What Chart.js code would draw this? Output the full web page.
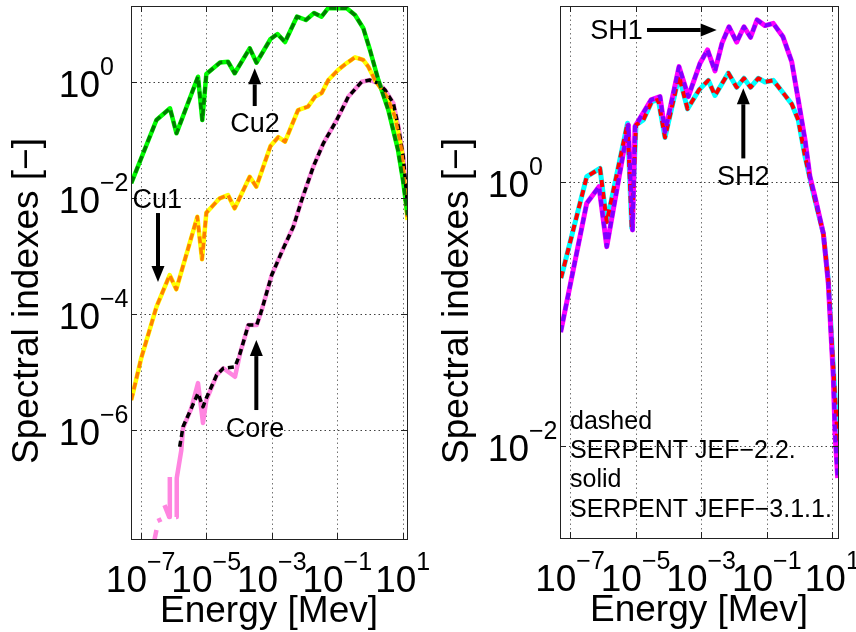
<!DOCTYPE html>
<html>
<head>
<meta charset="utf-8">
<script src="https://cdn.jsdelivr.net/npm/chart.js@4.4.1/dist/chart.umd.min.js"></script>
<style>
  html, body { margin: 0; padding: 0; background: #ffffff; }
  #wrap { position: relative; width: 856px; height: 632px; overflow: hidden; }
  #wrap canvas { position: absolute; left: 0; top: 0; }
</style>
</head>
<body>
<div id="wrap">
  <canvas id="leftPanel" width="856" height="632"></canvas>
  <canvas id="rightPanel" width="856" height="632"></canvas>
</div>
<script>
// ---------------------------------------------------------------
// Spectral indexes vs energy [MeV], SERPENT with JEF-2.2 (dashed)
// and JEFF-3.1.1 (solid) libraries.
// ---------------------------------------------------------------

// Left panel: Cu1, Cu2 detector positions and the core
const cu2Energy = [5.16e-8, 3.03e-7, 7.85e-7, 1.24e-6, 5.62e-6, 7.6e-6, 1.01e-5, 2.64e-5, 4.63e-5, 7.41e-5,
                   2.13e-4, 3.44e-4, 9.18e-4, 1.50e-3, 2.55e-3, 5.93e-3, 1.11e-2, 1.96e-2, 3.32e-2, 5.35e-2,
                   9.66e-2, 0.195, 0.350, 0.627, 1.00, 1.80, 3.63, 7.18, 10.2, 14.0];
const cu2Index  = [1.79e-2, 0.219, 0.348, 0.129, 1.22, 0.219, 1.36, 2.14, 2.21, 1.40,
                   3.77, 2.13, 5.45, 6.64, 4.83, 13.3, 11.6, 15.3, 13.2, 18.7,
                   18.5, 18.5, 14.1, 8.34, 3.52, 1.07, 0.325, 6.64e-2, 2.0e-2, 5.0e-3];

const cu1Energy = [5.16e-8, 1.04e-7, 3.03e-7, 7.67e-7, 1.22e-6, 5.35e-6, 7.45e-6, 1.01e-5, 2.58e-5, 4.63e-5,
                   7.41e-5, 2.13e-4, 3.39e-4, 9.18e-4, 1.59e-3, 2.55e-3, 6.35e-3, 1.28e-2, 2.10e-2, 3.36e-2,
                   5.35e-2, 0.106, 0.195, 0.350, 0.627, 0.891, 1.43, 3.25, 5.82, 9.31, 14.0];
const cu1Index  = [3.25e-6, 1.72e-5, 1.32e-4, 4.65e-4, 2.64e-4, 4.70e-3, 8.67e-4, 5.51e-3, 9.77e-3, 1.11e-2,
                   6.56e-3, 2.30e-2, 1.55e-2, 7.78e-2, 0.111, 9.24e-2, 0.325, 0.371, 0.551, 0.638,
                   1.07, 1.59, 2.10, 2.64, 2.37, 1.81, 1.07, 0.551, 0.249, 6.64e-2, 4.13e-3];

// Core, JEF-2.2
const coreEnergy = [1.55e-6, 1.96e-6, 3.51e-6, 5.62e-6, 7.98e-6, 1.01e-5, 2.09e-5, 3.33e-5, 7.57e-5, 1.08e-4,
                    1.93e-4, 3.48e-4, 4.95e-4, 1.0e-3, 2.26e-3, 4.57e-3, 8.24e-3, 1.86e-2, 3.77e-2, 9.66e-2,
                    0.218, 0.560, 1.00, 1.80, 2.88, 5.16, 7.34, 10.4, 14.0];
const coreJef    = [5.09e-7, 1.13e-6, 2.34e-6, 4.25e-6, 2.49e-6, 3.52e-6, 8.77e-6, 1.15e-5, 1.22e-5, 2.07e-5,
                    6.38e-5, 6.38e-5, 1.16e-4, 4.65e-4, 1.34e-3, 3.16e-3, 9.12e-3, 3.42e-2, 8.67e-2, 0.219,
                    0.551, 1.0, 1.07, 0.938, 0.719, 0.425, 0.168, 5.09e-2, 7.48e-3];

// Core, JEFF-3.1.1 (empty groups at low energy are left as gaps)
const coreJeffEnergy = [2.21e-7, 3.03e-7, 3.1e-7, 3.26e-7, 4.31e-7, 4.5e-7, 5.33e-7, 7.46e-7, 7.75e-7, 9.0e-7,
                        1.20e-6, 1.26e-6, 1.74e-6, 1.96e-6, 3.51e-6, 5.62e-6, 7.98e-6, 1.01e-5, 2.09e-5, 3.33e-5,
                        7.57e-5, 1.08e-4, 1.93e-4, 3.48e-4, 4.95e-4, 1.0e-3, 2.26e-3, 4.57e-3, 8.24e-3, 1.86e-2,
                        3.77e-2, 9.66e-2, 0.218, 0.560, 1.00, 1.80, 2.88, 5.16, 7.34, 10.4, 14.0];
const coreJeff       = [7.79e-9, 1.87e-8, null, 2.67e-8, 2.88e-8, null, 5.04e-8, 3.13e-8, 1.53e-7, null,
                        3.13e-8, 1.47e-7, 4.47e-7, 1.07e-6, 2.34e-6, 6.38e-6, 1.31e-6, 3.25e-6, 8.77e-6, 1.15e-5,
                        8.2e-6, 2.07e-5, 6.38e-5, 6.38e-5, 1.16e-4, 4.65e-4, 1.34e-3, 3.16e-3, 9.12e-3, 3.42e-2,
                        8.67e-2, 0.219, 0.551, 1.0, 1.07, 0.938, 0.719, 0.425, 0.168, 5.09e-2, 7.48e-3];

// Right panel: SH1 and SH2
const sh1Energy = [5.20e-8, 3.23e-7, 7.66e-7, 1.32e-6, 6.0e-6, 8.05e-6, 9.6e-6, 2.95e-5, 5.56e-5, 7.89e-5,
                   2.11e-4, 4.06e-4, 9.23e-4, 1.56e-3, 2.64e-3, 4.33e-3, 7.06e-3, 1.21e-2, 2.02e-2, 3.20e-2,
                   5.05e-2, 8.85e-2, 0.158, 0.313, 0.577, 0.916, 1.47, 2.08, 2.96, 5.31,
                   7.54, 10.7, 12.1, 14.6];
const sh1Index  = [7.26e-2, 0.685, 0.916, 0.322, 2.69, 0.431, 2.61, 4.16, 4.41, 2.38,
                   7.43, 4.41, 7.89, 9.95, 6.90, 11.2, 14.9, 11.4, 14.9, 12.4,
                   16.8, 15.2, 15.8, 12.5, 8.11, 4.16, 2.07, 1.09, 0.769, 0.406,
                   0.170, 3.33e-2, 1.24e-2, 5.69e-3];

const sh2Energy = [5.32e-8, 3.23e-7, 8.22e-7, 1.32e-6, 5.68e-6, 7.62e-6, 1.03e-5, 1.72e-5, 3.10e-5, 4.93e-5,
                   7.89e-5, 2.11e-4, 3.83e-4, 8.59e-4, 1.65e-3, 2.64e-3, 6.73e-3, 1.21e-2, 2.02e-2, 3.20e-2,
                   5.53e-2, 8.85e-2, 0.158, 0.286, 0.577, 0.916, 1.47, 2.63, 5.31, 7.54,
                   10.7, 13.6, 14.9];
const sh2Index  = [0.186, 1.09, 1.26, 0.495, 2.77, 0.446, 2.69, 2.93, 4.04, 4.16,
                   2.16, 6.32, 3.56, 4.95, 5.85, 4.50, 6.65, 5.18, 6.07, 5.18,
                   6.07, 5.69, 5.85, 4.86, 3.88, 2.93, 1.55, 0.817, 0.406, 0.180,
                   3.96e-2, 1.48e-2, 7.40e-3];

// Tick values (decades)
const xTicks      = [1e-7, 1e-5, 1e-3, 1e-1, 1e1];
const yTicksLeft  = [1e-6, 1e-4, 1e-2, 1];
const yTicksRight = [1e-2, 1];

// Axis limits
const leftX  = [5.06e-8, 13.5];
const leftY  = [1.31e-8, 20.2];
const rightX = [4.95e-8, 14.9];
const rightY = [2.0e-3, 21.4];

// Annotations (anchored in data coordinates)
const leftNotes = [
  { text: 'Cu2',  e: 3.09e-4, v: 0.137 },
  { text: 'Cu1',  e: 3.19e-7, v: 6.56e-3 },
  { text: 'Core', e: 3.09e-4, v: 7.48e-7 }
];
const leftArrows = [
  { from: [3.03e-4, 0.381],  to: [3.03e-4, 1.70] },
  { from: [3.37e-7, 5.45e-3], to: [3.37e-7, 3.52e-4] },
  { from: [3.39e-4, 2.19e-6], to: [3.39e-4, 3.52e-5] }
];
const rightNotes = [
  { text: 'SH1', e: 2.62e-6, v: 12.0 },
  { text: 'SH2', e: 1.93e-2, v: 0.944 }
];
const rightArrows = [
  { from: [2.23e-5, 14.1], to: [2.98e-3, 14.1] },
  { from: [1.93e-2, 1.50], to: [1.93e-2, 5.10] }
];
const legendLines = ['dashed', 'SERPENT JEF\u22122.2.', 'solid', 'SERPENT JEFF\u22123.1.1.'];
const legendAnchor = { e: 1e-7, v: 1.35e-2 };

// ---------------------------------------------------------------
const FAMILY = '"Liberation Sans", Arial, Helvetica, sans-serif';
const TICK_FONT = '37px ' + FAMILY;
const EXP_FONT  = '25px ' + FAMILY;
const TITLE_FONT = '37px ' + FAMILY;
const NOTE_FONT = '27px ' + FAMILY;
const LEGEND_FONT = '25px ' + FAMILY;

function points(xs, ys) { return xs.map((x, i) => ({ x: x, y: ys[i] })); }

function line(label, xs, ys, color, width, dash, order) {
  return {
    label: label,
    data: points(xs, ys),
    borderColor: color,
    backgroundColor: color,
    borderWidth: width,
    borderDash: dash || [],
    borderCapStyle: 'butt',
    borderJoinStyle: 'round',
    pointRadius: 0,
    tension: 0,
    fill: false,
    spanGaps: false,
    clip: 0,
    order: order
  };
}

function expText(v) {
  const p = Math.round(Math.log10(v));
  return p < 0 ? '\u2212' + (-p) : String(p);
}

// "10" with a raised exponent.
// anchor 'center': whole label centred on x; anchor 'right': the "10" ends at x
function decade(ctx, v, x, y, anchor) {
  const es = expText(v);
  ctx.font = TICK_FONT; const wb = ctx.measureText('10').width;
  ctx.font = EXP_FONT;  const we = ctx.measureText(es).width;
  const x0 = anchor === 'center' ? x - (wb + we) / 2 : x - wb;
  ctx.textAlign = 'left';
  ctx.textBaseline = 'alphabetic';
  ctx.font = TICK_FONT; ctx.fillText('10', x0, y);
  ctx.font = EXP_FONT;  ctx.fillText(es, x0 + wb, y - 22);
}

function arrow(ctx, x0, y0, x1, y1) {
  const dx = x1 - x0, dy = y1 - y0, L = Math.hypot(dx, dy);
  const ux = dx / L, uy = dy / L, hl = 16, hw = 6.5;
  const bx = x1 - ux * hl, by = y1 - uy * hl;
  ctx.strokeStyle = '#000'; ctx.fillStyle = '#000';
  ctx.lineWidth = 4; ctx.lineCap = 'butt'; ctx.setLineDash([]);
  ctx.beginPath(); ctx.moveTo(x0, y0); ctx.lineTo(bx, by); ctx.stroke();
  ctx.beginPath();
  ctx.moveTo(x1, y1);
  ctx.lineTo(bx - uy * hw, by + ux * hw);
  ctx.lineTo(bx + uy * hw, by - ux * hw);
  ctx.closePath(); ctx.fill();
}

// Dotted grid, drawn under the curves
const gridPlugin = {
  id: 'matGrid',
  beforeDatasetsDraw(chart) {
    const { ctx, chartArea: a, scales: { x, y } } = chart;
    ctx.save();
    ctx.lineWidth = 1;
    ctx.setLineDash([1.5, 3]);
    ctx.strokeStyle = 'rgba(0,0,0,0.55)';
    x.ticks.forEach(t => {
      const px = Math.round(x.getPixelForValue(t.value)) + 0.5;
      ctx.beginPath(); ctx.moveTo(px, a.top); ctx.lineTo(px, a.bottom); ctx.stroke();
    });
    ctx.strokeStyle = 'rgba(0,0,0,0.75)';
    y.ticks.forEach(t => {
      const py = Math.round(y.getPixelForValue(t.value)) + 0.5;
      ctx.beginPath(); ctx.moveTo(a.left, py); ctx.lineTo(a.right, py); ctx.stroke();
    });
    ctx.restore();
  }
};

// Box, tick marks, tick labels, axis titles and notes
const framePlugin = {
  id: 'matFrame',
  afterDraw(chart, args, opts) {
    const { ctx, chartArea: a, scales: { x, y } } = chart;
    ctx.save();
    ctx.setLineDash([]);
    ctx.strokeStyle = '#222';
    ctx.lineWidth = 1;
    ctx.strokeRect(Math.round(a.left) + 0.5, Math.round(a.top) + 0.5,
                   Math.round(a.right - a.left), Math.round(a.bottom - a.top));
    const tl = 6;
    ctx.beginPath();
    x.ticks.forEach(t => {
      const px = Math.round(x.getPixelForValue(t.value)) + 0.5;
      ctx.moveTo(px, a.bottom); ctx.lineTo(px, a.bottom - tl);
      ctx.moveTo(px, a.top); ctx.lineTo(px, a.top + tl);
    });
    y.ticks.forEach(t => {
      const py = Math.round(y.getPixelForValue(t.value)) + 0.5;
      ctx.moveTo(a.left, py); ctx.lineTo(a.left + tl, py);
      ctx.moveTo(a.right, py); ctx.lineTo(a.right - tl, py);
    });
    ctx.stroke();

    ctx.fillStyle = '#000';
    x.ticks.forEach(t => decade(ctx, t.value, x.getPixelForValue(t.value), a.bottom + 53, 'center'));
    y.ticks.forEach(t => decade(ctx, t.value, a.left - 31, y.getPixelForValue(t.value) + 15, 'right'));

    // axis titles
    ctx.font = TITLE_FONT;
    ctx.textAlign = 'center';
    ctx.textBaseline = 'alphabetic';
    ctx.fillText('Energy [Mev]', (a.left + a.right) / 2, a.bottom + 83);
    ctx.save();
    ctx.translate(a.left - opts.yTitleGap, opts.yTitleCenter);
    ctx.rotate(-Math.PI / 2);
    ctx.textBaseline = 'middle';
    ctx.fillText('Spectral indexes [\u2212]', 0, 0);
    ctx.restore();

    // notes and arrows
    ctx.font = NOTE_FONT;
    ctx.textAlign = 'center';
    ctx.textBaseline = 'alphabetic';
    (opts.notes || []).forEach(n => ctx.fillText(n.text, x.getPixelForValue(n.e), y.getPixelForValue(n.v)));
    (opts.arrows || []).forEach(r => arrow(ctx,
      x.getPixelForValue(r.from[0]), y.getPixelForValue(r.from[1]),
      x.getPixelForValue(r.to[0]), y.getPixelForValue(r.to[1])));

    if (opts.legend) {
      ctx.font = LEGEND_FONT;
      ctx.textAlign = 'left';
      const lx = x.getPixelForValue(opts.legend.anchor.e);
      const ly = y.getPixelForValue(opts.legend.anchor.v);
      opts.legend.lines.forEach((s, i) => ctx.fillText(s, lx, ly + i * 29.4));
    }
    ctx.restore();
  }
};

function logAxis(limits, ticks) {
  return {
    type: 'logarithmic',
    min: limits[0],
    max: limits[1],
    display: true,
    grid: { display: false, drawTicks: false },
    border: { display: false },
    ticks: { display: false },
    title: { display: false },
    afterBuildTicks: s => { s.ticks = ticks.map(v => ({ value: v })); }
  };
}

function panel(id, datasets, xLim, yLim, yTicks, padding, frameOpts) {
  return new Chart(document.getElementById(id), {
    type: 'line',
    data: { datasets: datasets },
    options: {
      responsive: false,
      animation: false,
      devicePixelRatio: 1,
      parsing: true,
      layout: { padding: padding },
      plugins: {
        legend: { display: false },
        tooltip: { enabled: false },
        matFrame: frameOpts
      },
      scales: { x: logAxis(xLim, xTicks), y: logAxis(yLim, yTicks) }
    },
    plugins: [gridPlugin, framePlugin]
  });
}

function build() {
  panel('leftPanel', [
    line('Cu2 JEF-2.2',     cu2Energy, cu2Index, '#008000', 3.5, [7, 4], 0),
    line('Cu1 JEF-2.2',     cu1Energy, cu1Index, '#ff8000', 3.5, [7, 4], 0),
    line('Core JEF-2.2',    coreEnergy, coreJef, '#000000', 3.5, [6, 4], 0),
    line('Cu2 JEFF-3.1.1',  cu2Energy, cu2Index, '#00ff00', 4.5, null, 1),
    line('Cu1 JEFF-3.1.1',  cu1Energy, cu1Index, '#ffff00', 4.5, null, 1),
    line('Core JEFF-3.1.1', coreJeffEnergy, coreJeff, '#ff85e0', 4.5, null, 1)
  ], leftX, leftY, yTicksLeft,
  { left: 131, top: 6, right: 449, bottom: 93 },
  { notes: leftNotes, arrows: leftArrows, yTitleGap: 103, yTitleCenter: 301 });

  panel('rightPanel', [
    line('SH1 JEF-2.2',    sh1Energy, sh1Index, '#8000ff', 4, [7, 4], 0),
    line('SH2 JEF-2.2',    sh2Energy, sh2Index, '#ff0000', 4, [7, 5], 0),
    line('SH1 JEFF-3.1.1', sh1Energy, sh1Index, '#ff00ff', 5, null, 1),
    line('SH2 JEFF-3.1.1', sh2Energy, sh2Index, '#00ffff', 5, null, 1)
  ], rightX, rightY, yTicksRight,
  { left: 560, top: 6, right: 18, bottom: 94 },
  { notes: rightNotes, arrows: rightArrows, yTitleGap: 102, yTitleCenter: 301,
    legend: { lines: legendLines, anchor: legendAnchor } });
}

if (document.fonts && document.fonts.load) {
  Promise.all([document.fonts.load(TICK_FONT), document.fonts.load(NOTE_FONT)])
    .then(build, build);
} else {
  build();
}
</script>
</body>
</html>
